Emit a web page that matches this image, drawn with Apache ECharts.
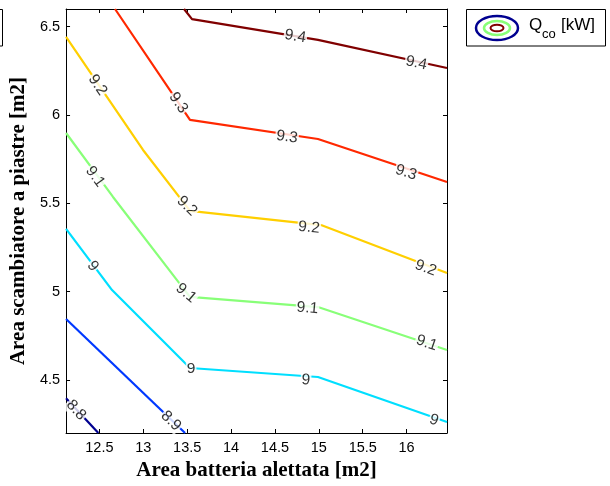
<!DOCTYPE html>
<html>
<head>
<meta charset="utf-8">
<script src="https://cdn.jsdelivr.net/npm/echarts@6/dist/echarts.min.js"></script>
<style>html,body{margin:0;padding:0;background:#fff;}#c{width:610px;height:486px;}</style>
</head>
<body>
<div id="c"></div>
<script>
// ---- data ----
const levels = [8.8, 8.9, 9.0, 9.1, 9.2, 9.3, 9.4];
const x88 = [12.12, 12.488];
const y88 = [4.396, 4.2];
const x89 = [12.12, 13.476];
const y89 = [4.845, 4.2];
const x90 = [12.12, 12.644, 13.532, 14.990, 16.46];
const y90 = [5.355, 5.009, 4.568, 4.517, 4.262];
const x91 = [12.12, 12.655, 13.419, 13.532, 14.990, 16.46];
const y91 = [5.898, 5.536, 5.043, 4.970, 4.913, 4.670];
const x92 = [12.12, 12.997, 13.532, 15.025, 16.46];
const y92 = [6.442, 5.802, 5.457, 5.377, 5.106];
const x93 = [12.678, 13.532, 14.990, 16.46];
const y93 = [6.6, 5.972, 5.864, 5.621];
const x94 = [13.464, 13.555, 14.990, 16.46];
const y94 = [6.6, 6.543, 6.425, 6.266];

const xTicks = [12.5, 13, 13.5, 14, 14.5, 15, 15.5, 16];
const yTicks = [4.5, 5, 5.5, 6, 6.5];

// contour labels (text and position in data units)
const labelText = ['9.4','9.4','9.3','9.3','9.3','9.2','9.2','9.2','9.2','9.1','9.1','9.1','9.1','9','9','9','9','8.9','8.8'];
const labelX = [14.733, 16.111, 13.400, 14.636, 15.993, 12.478, 13.497, 14.888, 16.217, 12.451, 13.487, 14.870, 16.229, 12.425, 13.545, 14.852, 16.312, 13.316, 12.234];
const labelY = [6.445, 6.294, 6.069, 5.876, 5.675, 6.170, 5.485, 5.363, 5.134, 5.651, 4.992, 4.907, 4.709, 5.145, 4.562, 4.500, 4.273, 4.268, 4.330];

// ---- style ----
const colors = ['#000090', '#0038ff', '#00dfff', '#88ff78', '#ffcf00', '#ff2800', '#800000'];
const labelRotate = [-9.5, -12, -56, -8, -18, -56, -45, -6, -21, -54, -40, -5, -19, -53, 0, -4, -19, -44, -48];

const xs = [x88, x89, x90, x91, x92, x93, x94];
const ys = [y88, y89, y90, y91, y92, y93, y94];

const series = levels.map((lv, i) => ({
  type: 'line',
  name: String(lv),
  data: xs[i].map((x, j) => [x, ys[i][j]]),
  showSymbol: false,
  symbol: 'none',
  lineStyle: { color: colors[i], width: 2.2 },
  clip: true,
  z: 2
}));
series.push({
  type: 'scatter',
  symbolSize: 0,
  z: 5,
  data: labelText.map((t, i) => ({
    value: [labelX[i], labelY[i]],
    label: {
      show: true, position: 'inside', formatter: t, rotate: labelRotate[i],
      color: '#000', fontFamily: 'Liberation Sans, Arial, sans-serif', fontSize: 15.5,
      backgroundColor: '#fff', padding: [0, 1, 0, 1]
    }
  })),
  clip: false
});

const font = 'Liberation Sans, Arial, sans-serif';
const serif = 'Liberation Serif, Times New Roman, serif';
const XMIN = 12.12, XMAX = 16.46, YMIN = 4.2, YMAX = 6.6;

const chart = echarts.init(document.getElementById('c'), null, { renderer: 'canvas' });
chart.setOption({
  animation: false,
  backgroundColor: '#fff',
  grid: { left: 66, right: 163, top: 9, bottom: 53 },
  xAxis: [{
    type: 'value', min: XMIN, max: XMAX, position: 'bottom',
    name: 'Area batteria alettata [m2]', nameLocation: 'middle', nameGap: 24,
    nameTextStyle: { fontFamily: serif, fontWeight: 'bold', fontSize: 21, color: '#000' },
    axisLine: { show: true, onZero: false, lineStyle: { color: '#000', width: 1 } },
    axisTick: { show: true, inside: true, length: 4, customValues: xTicks, lineStyle: { color: '#000' } },
    axisLabel: { customValues: xTicks, formatter: v => String(v), fontFamily: font, fontSize: 14.5, color: '#000', margin: 7 },
    splitLine: { show: false }
  }, {
    type: 'value', min: XMIN, max: XMAX, position: 'top',
    axisLine: { show: true, onZero: false, lineStyle: { color: '#000', width: 1 } },
    axisTick: { show: true, inside: true, length: 4, customValues: xTicks, lineStyle: { color: '#000' } },
    axisLabel: { show: false },
    splitLine: { show: false }
  }],
  yAxis: [{
    type: 'value', min: YMIN, max: YMAX, position: 'left',
    name: 'Area scambiatore a piastre [m2]', nameLocation: 'middle', nameGap: 36,
    nameTextStyle: { fontFamily: serif, fontWeight: 'bold', fontSize: 21, color: '#000' },
    axisLine: { show: true, onZero: false, lineStyle: { color: '#000', width: 1 } },
    axisTick: { show: true, inside: true, length: 4, customValues: yTicks, lineStyle: { color: '#000' } },
    axisLabel: { customValues: yTicks, formatter: v => String(v), fontFamily: font, fontSize: 14.5, color: '#000', margin: 6 },
    splitLine: { show: false }
  }, {
    type: 'value', min: YMIN, max: YMAX, position: 'right',
    axisLine: { show: true, onZero: false, lineStyle: { color: '#000', width: 1 } },
    axisTick: { show: true, inside: true, length: 4, customValues: yTicks, lineStyle: { color: '#000' } },
    axisLabel: { show: false },
    splitLine: { show: false }
  }],
  series: series,
  graphic: [
    { type: 'rect', shape: { x: -6, y: 9.5, width: 8.5, height: 36.5 }, style: { fill: '#fff', stroke: '#000', lineWidth: 1 } },
    { type: 'rect', shape: { x: 466.5, y: 9.5, width: 139, height: 36.5 }, style: { fill: '#fff', stroke: '#000', lineWidth: 1 } },
    { type: 'ellipse', shape: { cx: 497, cy: 28, rx: 21, ry: 12 }, style: { fill: null, stroke: '#000090', lineWidth: 2.5 } },
    { type: 'ellipse', shape: { cx: 497, cy: 28, rx: 13, ry: 7 }, style: { fill: null, stroke: '#88ff78', lineWidth: 2.5 } },
    { type: 'ellipse', shape: { cx: 497, cy: 28, rx: 6.5, ry: 3.3 }, style: { fill: null, stroke: '#800000', lineWidth: 2 } },
    { type: 'text', x: 529, y: 25, style: { text: 'Q', font: '17px ' + font, fill: '#000', verticalAlign: 'middle' } },
    { type: 'text', x: 542, y: 34, style: { text: 'co', font: '13px ' + font, fill: '#000', verticalAlign: 'middle' } },
    { type: 'text', x: 561, y: 25, style: { text: '[kW]', font: '17px ' + font, fill: '#000', verticalAlign: 'middle' } }
  ]
});
</script>
</body>
</html>
